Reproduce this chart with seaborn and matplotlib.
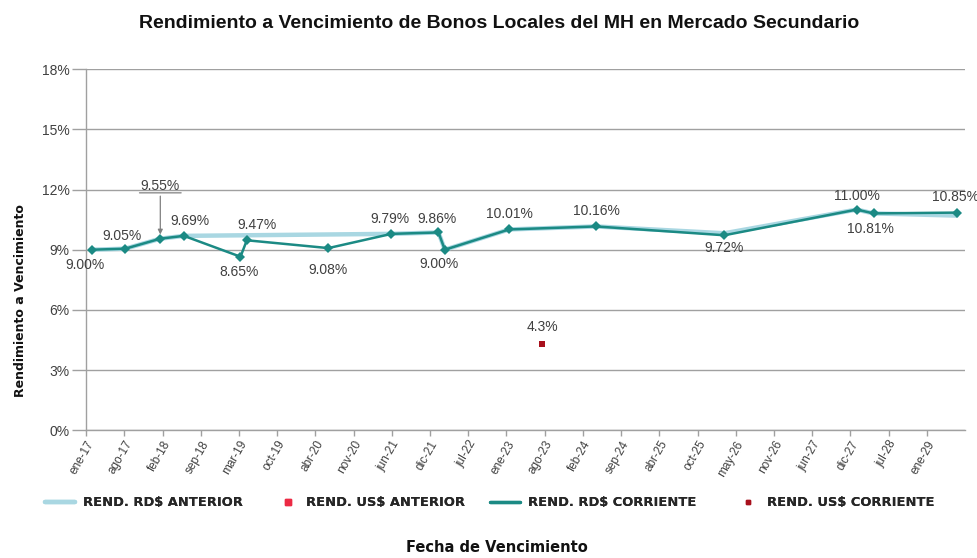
import matplotlib
matplotlib.use("Agg")
import matplotlib.pyplot as plt
import matplotlib.transforms as mtransforms
import matplotlib.dates as mdates
from matplotlib.lines import Line2D
import numpy as np
import pandas as pd
import seaborn as sns

# fechas de vencimiento y rendimientos (%)
fechas_corr = ["2017-01-30", "2017-07-24", "2018-01-23", "2018-05-26", "2019-03-17",
               "2019-04-19", "2020-06-17", "2021-05-12", "2022-01-12", "2022-02-14",
               "2023-01-15", "2024-04-12", "2026-02-10", "2028-01-01", "2028-03-29",
               "2029-06-06"]
rd_corriente = [9.00, 9.05, 9.55, 9.69, 8.65, 9.47, 9.08, 9.79, 9.86, 9.00,
                10.01, 10.16, 9.72, 11.00, 10.81, 10.85]

fechas_ant = ["2017-01-30", "2017-07-24", "2018-01-23", "2018-05-26", "2021-05-12",
              "2022-01-12", "2022-02-14", "2023-01-15", "2024-04-12", "2026-02-10",
              "2028-01-01", "2028-03-29", "2029-06-06"]
rd_anterior = [9.00, 9.05, 9.55, 9.69, 9.79, 9.86, 9.00, 10.01, 10.16, 9.82,
               11.00, 10.81, 10.70]

fecha_usd = ["2023-07-06"]
usd_anterior = [4.3]
usd_corriente = [4.3]

tick_labels = ["ene-17", "ago-17", "feb-18", "sep-18", "mar-19", "oct-19", "abr-20",
               "nov-20", "jun-21", "dic-21", "jul-22", "ene-23", "ago-23", "feb-24",
               "sep-24", "abr-25", "oct-25", "may-26", "nov-26", "jun-27", "dic-27",
               "jul-28", "ene-29"]

# desplazamiento de etiquetas (puntos)
label_offsets = [(-5, -11), (-2, 9), None, (4, 11), (-1, -11), (7, 11), (0, -16),
                 (-1, 11), (-1, 10), (-4, -10), (0, 11), (0, 11), (0, -9), (0, 10),
                 (-2, -11), (-1, 11)]

c_ant = "#a9d7e2"
c_corr = "#1b8a84"
c_usd_ant = "#ec2a44"
c_usd_corr = "#a8101c"
grid_c = "#a0a0a0"
txt_c = "#404040"

sns.set_theme(style="white")
plt.rcParams["font.family"] = ["Liberation Sans", "DejaVu Sans"]

df_corr = pd.DataFrame({"fecha": pd.to_datetime(fechas_corr), "rend": rd_corriente})
df_ant = pd.DataFrame({"fecha": pd.to_datetime(fechas_ant), "rend": rd_anterior})
df_usd = pd.DataFrame({"fecha": pd.to_datetime(fecha_usd), "ant": usd_anterior,
                       "corr": usd_corriente})

fig = plt.figure(figsize=(9.78, 5.58), dpi=100)
ax = fig.add_axes([0.088, 0.229, 0.899, 0.647])

sns.lineplot(data=df_ant, x="fecha", y="rend", color=c_ant, lw=3.2, ax=ax)
sns.lineplot(data=df_corr, x="fecha", y="rend", color=c_corr, lw=1.8, marker="D",
             markersize=5, markeredgewidth=0, ax=ax)
sns.scatterplot(data=df_usd, x="fecha", y="ant", color=c_usd_ant, marker="s", s=22,
                linewidth=0, ax=ax)
sns.scatterplot(data=df_usd, x="fecha", y="corr", color=c_usd_corr, marker="s", s=22,
                linewidth=0, ax=ax)

# ejes
x0 = pd.Timestamp("2017-01-01")
x1 = pd.Timestamp("2029-01-01")
ax.set_xlim(x0, pd.Timestamp("2029-07-20"))
ax.set_ylim(0, 18)
ticks = pd.to_datetime(np.linspace(x0.value, x1.value, len(tick_labels)))
ax.set_xticks(ticks)
ax.set_xticklabels(tick_labels, rotation=60, ha="right", rotation_mode="anchor",
                   fontsize=8.5, color=txt_c)
ax.set_yticks(range(0, 19, 3))
ax.set_yticklabels([f"{v}%" for v in range(0, 19, 3)], fontsize=10, color=txt_c)
ax.yaxis.grid(True, color=grid_c, lw=1)
ax.tick_params(axis="y", length=10, width=1, color=grid_c, pad=2, left=True)
ax.tick_params(axis="x", length=4, width=1, color=grid_c, pad=2, bottom=True)
for s in ["top", "right"]:
    ax.spines[s].set_visible(False)
for s in ["left", "bottom"]:
    ax.spines[s].set_color(grid_c)
    ax.spines[s].set_linewidth(1)
ax.set_xlabel("")
ax.set_ylabel("")

# etiquetas de datos
for f, v, off in zip(df_corr["fecha"], rd_corriente, label_offsets):
    if off is None:
        continue
    ax.annotate(f"{v:.2f}%", xy=(f, v), xytext=off, textcoords="offset points",
                ha="center", va="center", fontsize=10, color=txt_c)

# etiqueta 9.55% con guia
f955, v955 = mdates.date2num(df_corr["fecha"][2]), rd_corriente[2]
ax.annotate(f"{v955:.2f}%", xy=(f955, v955), xytext=(0, 33), textcoords="offset points",
            ha="center", va="bottom", fontsize=10, color=txt_c,
            arrowprops=dict(arrowstyle="-|>", color="#808080", lw=0.9, shrinkA=0,
                            shrinkB=3, mutation_scale=7))
ax.annotate("", xy=(f955, v955),
            xycoords=mtransforms.offset_copy(ax.transData, fig=fig, x=-15, y=33,
                                             units="points"),
            xytext=(30, 0), textcoords="offset points",
            arrowprops=dict(arrowstyle="-", color="#808080", lw=0.9, shrinkA=0, shrinkB=0))

ax.annotate(f"{usd_corriente[0]}%", xy=(mdates.date2num(df_usd["fecha"][0]), usd_corriente[0]),
            xytext=(0, 12), textcoords="offset points", ha="center", va="center",
            fontsize=10, color=txt_c)

# titulo y rotulos
fig.text(0.510, 0.957, "Rendimiento a Vencimiento de Bonos Locales del MH en Mercado Secundario",
         ha="center", va="center", fontsize=14, fontweight="bold", color="#111111")
fig.text(0.021, 0.462, "Rendimiento a Vencimiento", rotation=90, ha="center", va="center",
         fontsize=9, fontweight="bold", color="#111111", family="DejaVu Sans")
fig.text(0.508, 0.018, "Fecha de Vencimiento", ha="center", va="center",
         fontsize=10.5, fontweight="bold", color="#111111", family="DejaVu Sans")

# leyenda: una entrada por columna, como en el original
entries = [
    (Line2D([], [], color=c_ant, lw=3.2), "REND. RD$ ANTERIOR", 0.046, 2.3, 0.6),
    (Line2D([], [], color=c_usd_ant, marker="s", ls="", markersize=4),
     "REND. US$ ANTERIOR", 0.286, 1.2, 0.85),
    (Line2D([], [], color=c_corr, lw=2.4), "REND. RD$ CORRIENTE", 0.501, 2.3, 0.6),
    (Line2D([], [], color=c_usd_corr, marker="s", ls="", markersize=3),
     "REND. US$ CORRIENTE", 0.757, 1.2, 0.85),
]
for h, lab, xpos, hl, tp in entries:
    fig.add_artist(fig.legend([h], [lab], loc="center left", bbox_to_anchor=(xpos, 0.099),
                              frameon=False, borderpad=0, borderaxespad=0,
                              handlelength=hl, handletextpad=tp,
                              prop={"family": "DejaVu Sans", "weight": "bold", "size": 9.4}))

fig.savefig("out.png", dpi=100, facecolor="white")
